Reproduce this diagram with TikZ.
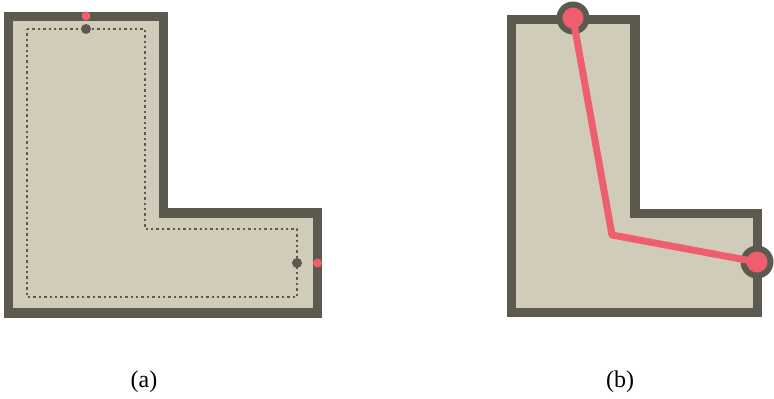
\documentclass[tikz,border=0pt]{standalone}
\usepackage{fontspec}
\setmainfont{Liberation Serif}
\usepackage{tikz}
\definecolor{RoomFill}{HTML}{D1CCBA}
\definecolor{RoomWall}{HTML}{5C5A4E}
\definecolor{PathRed}{HTML}{EE5E6C}
\begin{document}
\begin{tikzpicture}[x=1pt,y=-1pt]
  \tikzstyle{wall}=[draw=RoomWall,fill=RoomFill,line width=9.5pt,miter limit=10]
  \tikzstyle{inner}=[draw=RoomWall,line width=2.4pt,dash pattern=on 2.4pt off 3pt]
  \tikzstyle{dot}=[circle,fill=RoomWall,inner sep=0pt,minimum size=10pt]
  \tikzstyle{reddot}=[circle,fill=PathRed,inner sep=0pt,minimum size=9pt]
  \tikzstyle{hub}=[circle,fill=RoomWall,inner sep=0pt,minimum size=33pt]
  \tikzstyle{end}=[circle,fill=PathRed,inner sep=0pt,minimum size=21pt]
  \tikzstyle{lbl}=[font=\fontsize{24}{28}\selectfont]
  \useasboundingbox (0,0) rectangle (774,399);
  % (a) room with the offset path
  \draw[wall] (8.5,16.5) -- (163.5,16.5) -- (163.5,213) -- (317.5,213)
    -- (317.5,313) -- (8.5,313) -- cycle;
  \draw[inner] (27,29) -- (145,29) -- (145,229) -- (297,229)
    -- (297,297) -- (27,297) -- cycle;
  \node[dot] (a1) at (86,29) {};
  \node[dot] (a2) at (297,263) {};
  \node[reddot] (r1) at (86,16) {};
  \node[reddot] (r2) at (317.5,263) {};
  \node[lbl] (la) at (144,382) {(a)};
  % (b) room with the shortest path
  \draw[wall] (511.5,19.5) -- (635,19.5) -- (635,213.5) -- (757.5,213.5)
    -- (757.5,312.5) -- (511.5,312.5) -- cycle;
  \node[hub] (h1) at (573,18) {};
  \node[hub] (h2) at (757,262) {};
  \coordinate (bend) at (612,235);
  \draw[PathRed,line width=7pt,line join=round] (h1.center) -- (bend) -- (h2.center);
  \node[end] (e1) at (h1) {};
  \node[end] (e2) at (h2) {};
  \node[lbl] (lb) at (620,382) {(b)};
\end{tikzpicture}
\end{document}
